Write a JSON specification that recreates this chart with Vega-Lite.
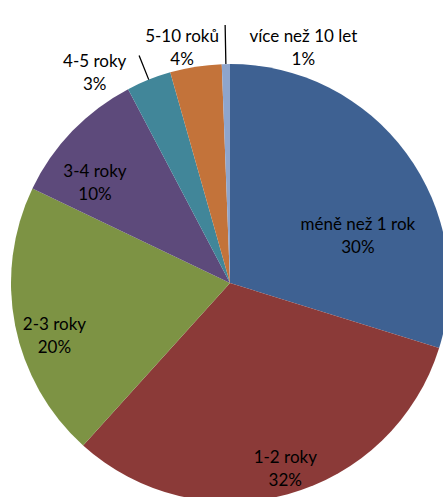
{
  "$schema": "https://vega.github.io/schema/vega-lite/v6.json",
  "width": 460,
  "height": 566,
  "autosize": "none",
  "padding": 0,
  "background": "white",
  "config": {"view": {"stroke": null}, "text": {"font": "Lato", "fontSize": 17, "lineHeight": 23, "lineBreak": "\n", "color": "#000000"}},
  "data": {
    "values": [
      {"i": 1, "k": "méně než 1 rok", "v": 29.8, "label": "méně než 1 rok\n30%"},
      {"i": 2, "k": "1-2 roky", "v": 31.9, "label": "1-2 roky\n32%"},
      {"i": 3, "k": "2-3 roky", "v": 20.4, "label": "2-3 roky\n20%"},
      {"i": 4, "k": "3-4 roky", "v": 10.2, "label": "3-4 roky\n10%"},
      {"i": 5, "k": "4-5 roky", "v": 3.3, "label": "4-5 roky\n3%"},
      {"i": 6, "k": "5-10 roků", "v": 3.8, "label": "5-10 roků\n4%"},
      {"i": 7, "k": "více než 10 let", "v": 0.6, "label": "více než 10 let\n1%"}
    ]
  },
  "encoding": {
    "theta": {"field": "v", "type": "quantitative", "stack": true},
    "order": {"field": "i", "type": "quantitative"}
  },
  "layer": [
    {
      "mark": {"type": "arc", "outerRadius": 219},
      "encoding": {
        "color": {
          "field": "k", "type": "nominal", "legend": null,
          "scale": {
            "domain": ["méně než 1 rok", "1-2 roky", "2-3 roky", "3-4 roky", "4-5 roky", "5-10 roků", "více než 10 let"],
            "range": ["#3E6192", "#8B3A38", "#7D9344", "#5D4A7B", "#418699", "#C3733A", "#8EA5CC"]
          }
        }
      }
    },
    {
      "mark": {"type": "arc", "outerRadius": 245, "innerRadius": 219, "padAngle": 3, "fill": "white", "fillOpacity": 0, "stroke": "#000000", "strokeWidth": 1.3},
      "encoding": {
        "detail": {"field": "k", "type": "nominal"},
        "strokeOpacity": {"condition": {"test": "datum.k == '4-5 roky'", "value": 1}, "value": 0}
      }
    },
    {
      "mark": {"type": "arc", "outerRadius": 258, "innerRadius": 219, "padAngle": 3, "fill": "white", "fillOpacity": 0, "stroke": "#000000", "strokeWidth": 1.3},
      "encoding": {
        "detail": {"field": "k", "type": "nominal"},
        "strokeOpacity": {"condition": {"test": "datum.k == 'více než 10 let'", "value": 1}, "value": 0}
      }
    },
    {
      "mark": {"type": "text", "radius": 160, "dx": -1, "dy": 37},
      "encoding": {
        "detail": {"field": "k", "type": "nominal"},
        "text": {"condition": {"test": "datum.k == 'méně než 1 rok'", "field": "label"}, "value": ""}
      }
    },
    {
      "mark": {"type": "text", "radius": 183, "dx": 7, "dy": -2},
      "encoding": {
        "detail": {"field": "k", "type": "nominal"},
        "text": {"condition": {"test": "datum.k == '1-2 roky'", "field": "label"}, "value": ""}
      }
    },
    {
      "mark": {"type": "text", "radius": 181, "dx": 2, "dy": 7},
      "encoding": {
        "detail": {"field": "k", "type": "nominal"},
        "text": {"condition": {"test": "datum.k == '2-3 roky'", "field": "label"}, "value": ""}
      }
    },
    {
      "mark": {"type": "text", "radius": 175, "dx": -9, "dy": 10},
      "encoding": {
        "detail": {"field": "k", "type": "nominal"},
        "text": {"condition": {"test": "datum.k == '3-4 roky'", "field": "label"}, "value": ""}
      }
    },
    {
      "mark": {"type": "text", "radius": 238, "dx": -47, "dy": 0},
      "encoding": {
        "detail": {"field": "k", "type": "nominal"},
        "text": {"condition": {"test": "datum.k == '4-5 roky'", "field": "label"}, "value": ""}
      }
    },
    {
      "mark": {"type": "text", "radius": 249, "dx": -9, "dy": 0},
      "encoding": {
        "detail": {"field": "k", "type": "nominal"},
        "text": {"condition": {"test": "datum.k == '5-10 roků'", "field": "label"}, "value": ""}
      }
    },
    {
      "mark": {"type": "text", "radius": 246, "dx": 78, "dy": 0},
      "encoding": {
        "detail": {"field": "k", "type": "nominal"},
        "text": {"condition": {"test": "datum.k == 'více než 10 let'", "field": "label"}, "value": ""}
      }
    }
  ]
}
